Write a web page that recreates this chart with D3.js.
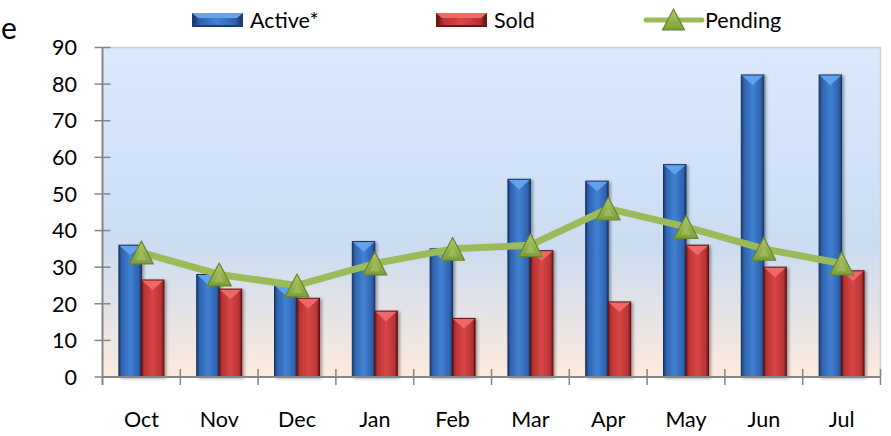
<!DOCTYPE html>
<html>
<head>
<meta charset="utf-8">
<script src="https://cdn.jsdelivr.net/npm/d3@7/dist/d3.min.js"></script>
<style>
  html, body { margin: 0; padding: 0; background: #fff; }
  svg { display: block; }
  text { font-family: Lato, "Open Sans", sans-serif; fill: #000; }
</style>
</head>
<body>
<svg id="chart" width="891" height="436"></svg>
<script>
const categories = ["Oct","Nov","Dec","Jan","Feb","Mar","Apr","May","Jun","Jul"];
const activeValues = [36, 28, 25, 37, 35, 54, 53.5, 58, 82.5, 82.5];
const soldValues = [26.5, 24, 21.5, 18, 16, 34.5, 20.5, 36, 30, 29];
const pendingValues = [34, 28, 25, 31, 35, 36, 46, 41, 35, 31];
const yTicks = [0, 10, 20, 30, 40, 50, 60, 70, 80, 90];
const seriesNames = ["Active*", "Sold", "Pending"];

(function () {
const svg = d3.select("#chart");
const pLeft = 102.5, pRight = 880.5, pTop = 47.5, pBottom = 377;

const x = d3.scaleBand().domain(categories).range([pLeft, pRight]).paddingInner(0).paddingOuter(0);
const x1 = d3.scaleBand().domain(["active", "sold"]).range([0, x.bandwidth()]).paddingInner(0).paddingOuter(0.73);
const y = d3.scaleLinear().domain([0, 90]).range([pBottom, pTop]);

const defs = svg.append("defs");
const bg = defs.append("linearGradient").attr("id", "bg").attr("x1", 0).attr("y1", 0).attr("x2", 0).attr("y2", 1);
bg.append("stop").attr("offset", "0").attr("stop-color", "#dce9fc");
bg.append("stop").attr("offset", "0.35").attr("stop-color", "#d2e2f8");
bg.append("stop").attr("offset", "0.6").attr("stop-color", "#cbdcf1");
bg.append("stop").attr("offset", "1").attr("stop-color", "#fdeadd");

function barGrad(id, edge, body, hi) {
  const g = defs.append("linearGradient").attr("id", id).attr("x1", 0).attr("y1", 0).attr("x2", 1).attr("y2", 0);
  g.append("stop").attr("offset", "0").attr("stop-color", edge);
  g.append("stop").attr("offset", "0.12").attr("stop-color", body);
  g.append("stop").attr("offset", "0.5").attr("stop-color", hi);
  g.append("stop").attr("offset", "0.88").attr("stop-color", body);
  g.append("stop").attr("offset", "1").attr("stop-color", edge);
}
barGrad("gBlue", "#1b3a6b", "#2f62ae", "#4282d4");
barGrad("gRed", "#6e1616", "#b83434", "#d94646");

const tg = defs.append("linearGradient").attr("id", "gTri").attr("x1", 0).attr("y1", 0).attr("x2", 0).attr("y2", 1);
tg.append("stop").attr("offset", "0").attr("stop-color", "#b0ca6a");
tg.append("stop").attr("offset", "1").attr("stop-color", "#7d9c3c");

const sh = defs.append("filter").attr("id", "shadow").attr("x", "-30%").attr("y", "-10%").attr("width", "160%").attr("height", "120%");
sh.append("feDropShadow").attr("dx", 2).attr("dy", 1).attr("stdDeviation", 1.8).attr("flood-color", "#000").attr("flood-opacity", 0.35);

svg.append("rect").attr("x", pLeft).attr("y", pTop).attr("width", pRight - pLeft).attr("height", pBottom - pTop)
  .attr("fill", "url(#bg)");
svg.append("path").attr("d", `M${pLeft},${pTop}H${pRight}V${pBottom}`).attr("fill", "none").attr("stroke", "#d0d0d0").attr("stroke-width", 1.5);

function drawBars(values, key, grad, bevel, dark) {
  const g = svg.append("g");
  const w = x1.bandwidth();
  values.forEach((v, i) => {
    const bx = x(categories[i]) + x1(key);
    const by = y(v);
    const bh = y(0) - y(v);
    const bar = g.append("g").attr("filter", "url(#shadow)");
    bar.append("rect").attr("x", bx).attr("y", by).attr("width", w).attr("height", bh).attr("fill", `url(#${grad})`);
    const b = Math.min(w * 0.45, bh / 2);
    bar.append("path")
      .attr("d", `M${bx},${by}L${bx + w},${by}L${bx + w / 2},${by + b}Z`)
      .attr("fill", bevel).attr("opacity", 0.95);
    bar.append("rect").attr("x", bx).attr("y", by).attr("width", w).attr("height", bh)
      .attr("fill", "none").attr("stroke", dark).attr("stroke-width", 1);
  });
}
drawBars(activeValues, "active", "gBlue", "#62a4ee", "#1a355f");
drawBars(soldValues, "sold", "gRed", "#f06a6a", "#5e1212");

const axisColor = "#868686";
const yAxis = svg.append("g");
yAxis.append("line").attr("x1", pLeft).attr("x2", pLeft).attr("y1", pTop).attr("y2", pBottom + 8)
  .attr("stroke", axisColor).attr("stroke-width", 2);
yTicks.forEach(t => {
  yAxis.append("line").attr("x1", pLeft - 8).attr("x2", pLeft + 8).attr("y1", y(t)).attr("y2", y(t))
    .attr("stroke", axisColor).attr("stroke-width", 1.5);
  yAxis.append("text").attr("x", 77).attr("y", y(t)).attr("dy", "0.36em").attr("text-anchor", "end")
    .style("font-size", "21.5px").text(t);
});

const xAxis = svg.append("g");
xAxis.append("line").attr("x1", pLeft).attr("x2", pRight).attr("y1", pBottom).attr("y2", pBottom)
  .attr("stroke", axisColor).attr("stroke-width", 2);
const boundaries = categories.map(c => x(c)).concat([x(categories[categories.length - 1]) + x.bandwidth()]);
boundaries.forEach((bx, i) => {
  if (i === 0) return;
  xAxis.append("line").attr("x1", bx).attr("x2", bx).attr("y1", pBottom - 8).attr("y2", pBottom + 8)
    .attr("stroke", axisColor).attr("stroke-width", 1.5);
});
categories.forEach(c => {
  xAxis.append("text").attr("x", x(c) + x.bandwidth() / 2).attr("y", 427).attr("text-anchor", "middle")
    .style("font-size", "21.5px").text(c);
});

const line = d3.line().x((d, i) => x(categories[i]) + x.bandwidth() / 2).y(d => y(d));
svg.append("path").datum(pendingValues).attr("d", line).attr("fill", "none")
  .attr("stroke", "#9bbb59").attr("stroke-width", 7).attr("stroke-linejoin", "round");

function triangle(cx, cy, s) {
  const h = s * 0.95;
  return `M${cx},${cy - h / 2}L${cx + s / 2},${cy + h / 2}L${cx - s / 2},${cy + h / 2}Z`;
}
const markers = svg.append("g");
pendingValues.forEach((v, i) => {
  const cx = x(categories[i]) + x.bandwidth() / 2, cy = y(v);
  markers.append("path").attr("d", triangle(cx, cy, 24)).attr("fill", "url(#gTri)")
    .attr("stroke", "#68862f").attr("stroke-width", 1.2).attr("stroke-linejoin", "round");
  markers.append("path").attr("d", triangle(cx, cy + 3, 10)).attr("fill", "#a9c563").attr("opacity", 0.6);
});

const leg = svg.append("g");
function legSwatch(x0, grad, bevel, dark) {
  const w = 51, h = 14, yy = 13;
  leg.append("rect").attr("x", x0).attr("y", yy).attr("width", w).attr("height", h).attr("fill", dark);
  leg.append("rect").attr("x", x0 + 2).attr("y", yy + 2).attr("width", w - 4).attr("height", h - 4).attr("fill", `url(#${grad})`);
  leg.append("path").attr("d", `M${x0},${yy}H${x0 + w}L${x0 + w - 6},${yy + 5}H${x0 + 6}Z`).attr("fill", bevel);
}
legSwatch(192, "gBlue", "#62a4ee", "#1d3d6e");
leg.append("text").attr("x", 250).attr("y", 27.5).style("font-size", "21.5px").text(seriesNames[0]);
legSwatch(436, "gRed", "#f06a6a", "#6e1616");
leg.append("text").attr("x", 494).attr("y", 27.5).style("font-size", "21.5px").text(seriesNames[1]);
leg.append("line").attr("x1", 646).attr("x2", 702).attr("y1", 20).attr("y2", 20)
  .attr("stroke", "#9bbb59").attr("stroke-width", 5).attr("stroke-linecap", "round");
leg.append("path").attr("d", triangle(673.5, 19.5, 22)).attr("fill", "url(#gTri)")
  .attr("stroke", "#68862f").attr("stroke-width", 1.2);
leg.append("text").attr("x", 705).attr("y", 27.5).style("font-size", "21.5px").text(seriesNames[2]);

svg.append("text").attr("x", 1).attr("y", 39).attr("text-anchor", "start").style("font-size", "30px").text("e");
})();
</script>
</body>
</html>
